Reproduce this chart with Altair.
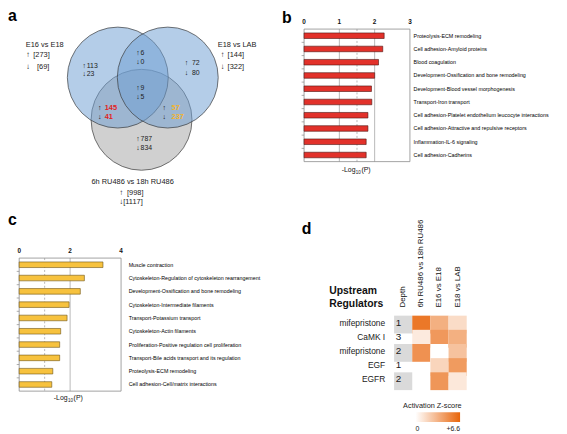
import altair as alt
import pandas as pd

# ---------------- data ----------------
# a: Venn diagram
venn_sets = ["E16 vs E18", "E18 vs LAB", "6h RU486 vs 18h RU486"]
venn_set_up = [273, 144, 998]
venn_set_down = [69, 322, 1117]
venn_regions = ["E16 only", "E16 & LAB", "LAB only", "all three", "E16 & RU", "LAB & RU", "RU only"]
venn_region_up = [113, 6, 72, 9, 145, 57, 787]
venn_region_down = [23, 0, 80, 5, 41, 237, 834]

# b: enriched pathways (red)
b_pathways = [
    "Proteolysis-ECM remodeling",
    "Cell adhesion-Amyloid proteins",
    "Blood coagulation",
    "Development-Ossification and bone remodeling",
    "Development-Blood  vessel morphogenesis",
    "Transport-Iron transport",
    "Cell adhesion-Platelet endothelium leucocyte interactions",
    "Cell adhesion-Attractive and repulsive receptors",
    "Inflammation-IL-6 signaling",
    "Cell adhesion-Cadherins",
]
b_values = [2.27, 2.23, 2.11, 2.00, 1.91, 1.92, 1.81, 1.81, 1.76, 1.76]
b_ticks = [0, 1, 2, 3]

# c: enriched pathways (yellow)
c_pathways = [
    "Muscle contraction",
    "Cytoskeleton-Regulation of cytoskeleton rearrangement",
    "Development-Ossification and bone remodeling",
    "Cytoskeleton-Intermediate filaments",
    "Transport-Potassium transport",
    "Cytoskeleton-Actin filaments",
    "Proliferation-Positive regulation cell proliferation",
    "Transport-Bile acids transport and its regulation",
    "Proteolysis-ECM remodeling",
    "Cell adhesion-Cell/matrix interactions",
]
c_values = [3.29, 2.56, 2.40, 1.96, 1.88, 1.63, 1.59, 1.59, 1.32, 1.28]
c_ticks = [0, 2, 4]

# d: upstream regulators heatmap
d_regulators = ["mifepristone", "CaMK I", "mifepristone", "EGF", "EGFR"]
d_depth = [1, 3, 2, 1, 2]
d_columns = ["6h RU486 vs 18h RU486", "E16 vs E18", "E18 vs LAB"]
d_z_ru486 = [5.8, 0.9, 4.7, None, None]
d_z_e16 = [3.4, 4.4, 0.0, 1.8, 4.5]
d_z_e18 = [1.5, 3.4, 2.6, 4.3, 1.0]
z_max = 6.6

# ---------------- layout / style ----------------
OFF = 8  # page margin: chart pixel = picture pixel - 8
W, H = 557, 424
FONT = "Liberation Sans"
XS = alt.Scale(domain=[0, W], range=[0, W], nice=False, zero=False)
YS = alt.Scale(domain=[0, H], range=[0, H], nice=False, zero=False)


def px(v):
    return v - OFF


def texts(rows, size=7, color="#222222", align="left", weight="normal", font=FONT, angle=0):
    df = pd.DataFrame(rows, columns=["text", "x", "y"])
    df["x"] = df["x"].map(px)
    df["y"] = df["y"].map(px)
    return alt.Chart(df).mark_text(
        align=align, baseline="middle", fontWeight=weight, font=font, angle=angle,
        fontSize=size, color=color,
    ).encode(
        x=alt.X("x:Q", scale=XS, axis=None),
        y=alt.Y("y:Q", scale=YS, axis=None),
        text="text:N",
    )


# ---- panel a ----
R = 51
circ_layout = [(119, 76), (169.5, 76), (143, 118.7)]
circ_style = [("#6fa0d3", 0.52), ("#6fa0d3", 0.52), ("#a2a2a2", 0.5)]
circ_order = [2, 0, 1]


def circle(i):
    df = pd.DataFrame({"set": [venn_sets[i]], "cx": [px(circ_layout[i][0])], "cy": [px(circ_layout[i][1])]})
    return alt.Chart(df).mark_point(
        shape="circle", size=(2 * R) ** 2, filled=True, opacity=1,
        fill=circ_style[i][0], fillOpacity=circ_style[i][1],
        stroke="#3c3c3c", strokeWidth=0.7, strokeOpacity=1,
    ).encode(x=alt.X("cx:Q", scale=XS, axis=None), y=alt.Y("cy:Q", scale=YS, axis=None))


# region label layout: arrow x, number left x, y up, y down, highlight colour
reg_layout = [
    (85, 87.6, 64.3, 72.7, None),
    (139.5, 142, 51.7, 60.0, None),
    (188.5, 194, 61.7, 71.7, None),
    (139.5, 142, 86.7, 96.0, None),
    (100.7, 105.7, 106.7, 116.0, "#e2241c"),
    (166, 173.3, 106.7, 116.0, "#f4b42a"),
    (139.5, 142, 138.3, 147.3, None),
]
arrow_rows, num_rows, hi_layers = [], [], []
for (ax, nx, yu, yd, col), up, dn in zip(reg_layout, venn_region_up, venn_region_down):
    arrow_rows += [("↑", ax, yu), ("↓", ax, yd)]
    rws = [(str(up), nx, yu), (str(dn), nx, yd)]
    if col:
        hi_layers.append(texts(rws, size=7.5, color=col, weight="bold"))
    else:
        num_rows += rws

set_layout = [  # title x, title y, title align, arrow x, bracket x up, bracket x down, y up, y down
    (26, 42.7, "left", 28.5, 33.5, 37.3, 53.3, 65.0),
    (220, 42.7, "left", 225, 230, 230, 53.3, 65.0),
    (134, 181.7, "center", 122.7, 128.3, 124.5, 192.3, 202.3),
]
set_left, set_center, set_arrows = [], [], []
for (tx, ty, al, ax, bxu, bxd, yu, yd), name, up, dn in zip(set_layout, venn_sets, venn_set_up, venn_set_down):
    (set_left if al == "left" else set_center).append((name, tx, ty))
    set_arrows += [("↑", ax, yu), ("↓", ax, yd)]
    set_left += [(f"[{up}]", bxu, yu), (f"[{dn}]", bxd, yd)]

panel_a = alt.layer(
    *[circle(i) for i in circ_order],
    texts(arrow_rows, size=7, color="#111111", align="center", weight="bold"),
    texts(set_arrows, size=8, color="#111111", align="center", weight="bold"),
    texts(num_rows, size=7, color="#222222"),
    *hi_layers,
    texts(set_left, size=7.5),
    texts(set_center, size=7.5, align="center"),
)


# ---- bar panels ----
HALF_BAR = 0.21  # half bar thickness, in row units


def bar_panel(paths, vals, ticks, dom, xr, top, bottom, fill, stroke, solid, dashed,
              label_x, tick_y, title_xy):
    n = len(paths)
    df = pd.DataFrame({"pathway": paths, "value": vals, "idx": list(range(n))})
    xs = alt.Scale(domain=dom, range=[px(xr[0]), px(xr[1])], nice=False, zero=False)
    ys = alt.Scale(domain=[-0.5, n - 0.5], range=[px(top), px(bottom)], nice=False, zero=False)
    frame = alt.Chart(pd.DataFrame({"lo": [dom[0]], "hi": [dom[1]]})).mark_rect(
        fillOpacity=0, stroke="#8a8a8a", strokeWidth=0.8
    ).encode(
        x=alt.X("lo:Q", scale=xs, axis=None), x2="hi:Q",
        y=alt.value(px(top)), y2=alt.value(px(bottom)),
    )
    grid = alt.Chart(pd.DataFrame({"g": solid})).mark_rule(color="#9a9a9a", strokeWidth=0.7).encode(
        x=alt.X("g:Q", scale=xs, axis=None), y=alt.value(px(top)), y2=alt.value(px(bottom)))
    dash = alt.Chart(pd.DataFrame({"g": dashed})).mark_rule(
        color="#9a9a9a", strokeWidth=0.7, strokeDash=[2, 2]).encode(
        x=alt.X("g:Q", scale=xs, axis=None), y=alt.value(px(top)), y2=alt.value(px(bottom)))
    bars = alt.Chart(df).transform_calculate(
        y0=f"datum.idx - {HALF_BAR}", y1=f"datum.idx + {HALF_BAR}", zero="0"
    ).mark_rect(fill=fill, stroke=stroke, strokeWidth=0.6).encode(
        x=alt.X("zero:Q", scale=xs, axis=None), x2="value:Q",
        y=alt.Y("y0:Q", scale=ys, axis=None), y2="y1:Q",
    )
    side_ticks = alt.Chart(df.iloc[:-1]).transform_calculate(b="datum.idx + 0.5").mark_rule(
        color="#777777", strokeWidth=0.6).encode(
        x=alt.value(px(xr[0]) - 2.5), x2=alt.value(px(xr[0])),
        y=alt.Y("b:Q", scale=ys, axis=None),
    )
    labels = alt.Chart(df).mark_text(align="left", baseline="middle", font=FONT, fontSize=5.4,
                                     color="#000000").encode(
        x=alt.value(px(label_x)),
        y=alt.Y("idx:Q", scale=ys, axis=None),
        text="pathway:N",
    )
    tick_lab = alt.Chart(pd.DataFrame({"t": ticks})).mark_text(
        baseline="middle", font=FONT, fontSize=6.5, fontWeight="bold", color="#111111").encode(
        x=alt.X("t:Q", scale=xs, axis=None), y=alt.value(px(tick_y)), text="t:Q")
    tx, ty = title_xy
    t1 = alt.Chart(pd.DataFrame({"t": ["-Log"]})).mark_text(
        align="right", baseline="middle", font=FONT, fontSize=7, color="#111111").encode(
        x=alt.value(px(tx)), y=alt.value(px(ty)), text="t:N")
    t2 = alt.Chart(pd.DataFrame({"t": ["10"]})).mark_text(
        align="left", baseline="middle", font=FONT, fontSize=4.5, color="#111111").encode(
        x=alt.value(px(tx + 0.3)), y=alt.value(px(ty + 2.5)), text="t:N")
    t3 = alt.Chart(pd.DataFrame({"t": ["(P)"]})).mark_text(
        align="left", baseline="middle", font=FONT, fontSize=7, color="#111111").encode(
        x=alt.value(px(tx + 6)), y=alt.value(px(ty)), text="t:N")
    return alt.layer(grid, dash, frame, bars, side_ticks, labels, tick_lab, t1, t2, t3)


panel_b = bar_panel(b_pathways, b_values, b_ticks, [0, 3], [307.3, 414.3], 27, 161,
                    "#e2312a", "#4a1210", [1, 2], [1.5], 418, 19.7, (359.3, 169.5))
panel_c = bar_panel(c_pathways, c_values, c_ticks, [0, 4], [19.3, 122.3], 258.5, 393,
                    "#f7c23e", "#6b5214", [2], [1], 130, 251.7, (68.3, 400))

# ---- panel d ----
col_order = ["Depth"] + d_columns
rows = [str(i + 1) for i in range(len(d_regulators))]
dx = alt.Scale(type="band", domain=col_order, range=[px(398.3), px(471.7)], paddingInner=0, paddingOuter=0)
dy = alt.Scale(type="band", domain=rows, range=[px(316.7), px(388.3)], paddingInner=0, paddingOuter=0)

heat_recs = []
for col, zs in zip(d_columns, [d_z_ru486, d_z_e16, d_z_e18]):
    for r, z in zip(rows, zs):
        if z is not None:
            heat_recs.append({"col": col, "row": r, "z": z})
heat = alt.Chart(pd.DataFrame(heat_recs)).mark_rect().encode(
    x=alt.X("col:N", scale=dx, axis=None),
    y=alt.Y("row:N", scale=dy, axis=None),
    color=alt.Color("z:Q", scale=alt.Scale(domain=[0, z_max], range=["#ffffff", "#e8650a"],
                                           interpolate="rgb"),
                    legend=alt.Legend(orient="none", legendX=px(420), legendY=px(414.3),
                                      direction="horizontal", gradientLength=45, gradientThickness=10,
                                      title=None, values=[0, z_max], padding=0, offset=0,
                                      labelExpr="datum.value == 0 ? '0' : '+6.6'",
                                      labelFont=FONT, labelFontSize=7, labelColor="#222222",
                                      labelOffset=3, gradientStrokeWidth=0)),
)
depth_df = pd.DataFrame({"col": "Depth", "row": rows, "depth": d_depth, "reg": d_regulators})
shaded_rows = ["1", "3", "5"]
depth_cells = alt.Chart(depth_df[depth_df["row"].isin(shaded_rows)]).mark_rect(fill="#dadada").encode(
    x=alt.X("col:N", scale=dx, axis=None), y=alt.Y("row:N", scale=dy, axis=None))
depth_nums = alt.Chart(depth_df).mark_text(align="left", baseline="middle", font=FONT, fontSize=10,
                                           color="#222222", dx=-7.5).encode(
    x=alt.X("col:N", scale=dx, axis=None), y=alt.Y("row:N", scale=dy, axis=None),
    text="depth:Q")
row_labels = alt.Chart(depth_df).mark_text(align="right", baseline="middle", font=FONT, fontSize=8.5,
                                           color="#222222").encode(
    x=alt.value(px(389.3)), y=alt.Y("row:N", scale=dy, axis=None), text="reg:N")
headers = alt.Chart(pd.DataFrame({"col": col_order})).mark_text(
    align="left", baseline="middle", angle=270, font=FONT, fontSize=8, color="#111111").encode(
    x=alt.X("col:N", scale=dx, axis=None), y=alt.value(px(308.5)), text="col:N")
reg_title = alt.Chart(pd.DataFrame({"t": ["Upstream", "Regulators"], "k": [0, 1]})).mark_text(
    align="left", baseline="middle", font=FONT, fontSize=10.5, fontWeight="bold", color="#111111").encode(
    x=alt.value(px(332.7)), y=alt.value(px(291.7)), text="t:N",
    yOffset=alt.YOffset("k:Q", scale=alt.Scale(domain=[0, 1], range=[0, 13.3])))
leg_title = alt.Chart(pd.DataFrame({"t": ["Activation Z-score"]})).mark_text(
    align="center", baseline="middle", font=FONT, fontSize=7.4, color="#222222").encode(
    x=alt.value(px(437)), y=alt.value(px(408.3)), text="t:N")

panel_d = alt.layer(depth_cells, heat, depth_nums, row_labels, headers, reg_title, leg_title)

letters = texts([("a", 8, 14), ("b", 285, 16), ("c", 8, 220), ("d", 305, 229)],
                size=16, color="#000000", weight="bold")

chart = alt.layer(panel_a, panel_b, panel_c, panel_d, letters).resolve_scale(
    x="independent", y="independent", color="independent"
).properties(
    width=W, height=H, padding=0, autosize=alt.AutoSizeParams(type="none")
).configure_view(stroke=None)

chart.save("out.html", embed_options={"renderer": "svg", "actions": False})
